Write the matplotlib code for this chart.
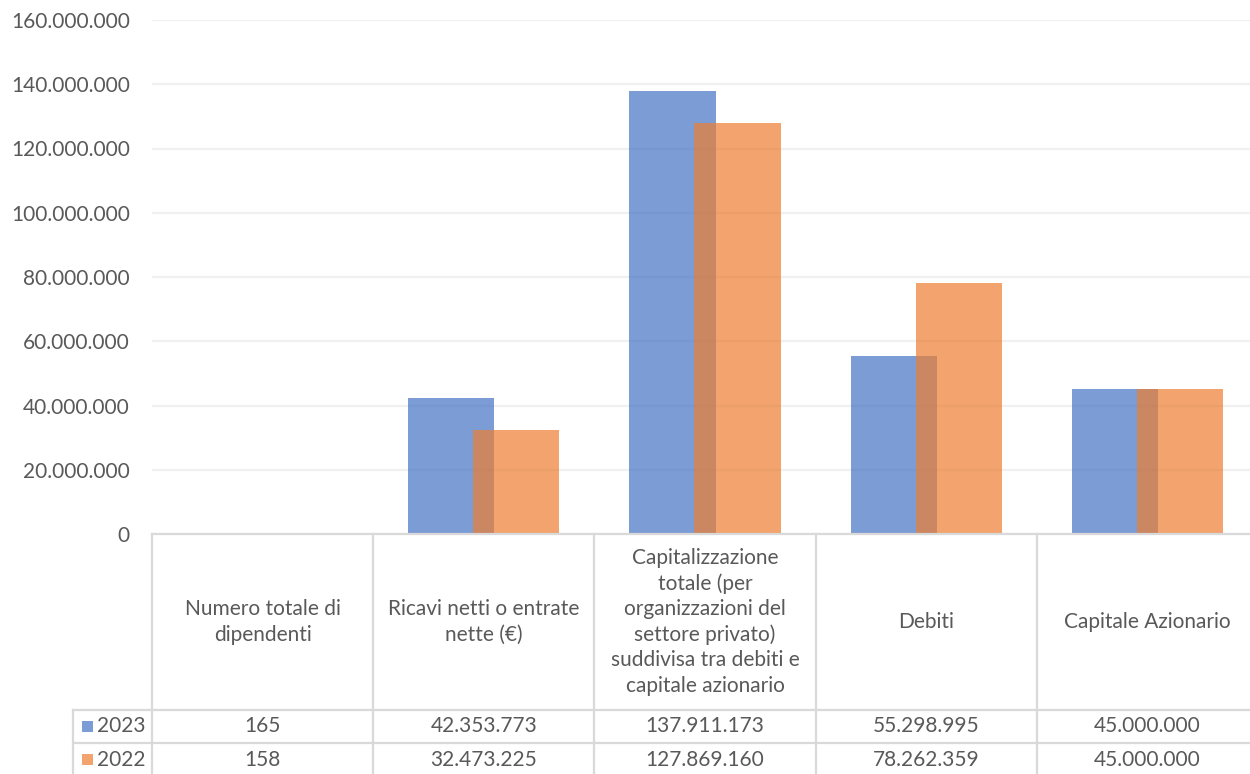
import matplotlib.pyplot as plt
from matplotlib.ticker import FuncFormatter
import numpy as np

categories = ['Numero totale di\ndipendenti',
              'Ricavi netti o entrate\nnette (€)',
              'Capitalizzazione\ntotale (per\norganizzazioni del\nsettore privato)\nsuddivisa tra debiti e\ncapitale azionario',
              'Debiti',
              'Capitale Azionario']
years = ['2023', '2022']
vals_2023 = [165, 42353773, 137911173, 55298995, 45000000]
vals_2022 = [158, 32473225, 127869160, 78262359, 45000000]
colors = ['#4472C4', '#ED7D31']

def fmt(v):
	return f'{v:,.0f}'.replace(',', '.')

plt.rcParams['font.family'] = ['Lato', 'DejaVu Sans']
txt = '#595959'
fs = 15

W, H = 1250, 774
fig = plt.figure(figsize=(W / 100, H / 100), dpi=100)

# plot area in pixels
x0, x1 = 152, 1258
ytop, ybot = 20, 534
ax = fig.add_axes([x0 / W, 1 - ybot / H, (x1 - x0) / W, (ybot - ytop) / H])

n = len(categories)
x = np.arange(n)
bw = 0.39
off = 0.147
ax.bar(x - off, vals_2023, bw, color=colors[0], alpha=0.7, zorder=3)
ax.bar(x + off, vals_2022, bw, color=colors[1], alpha=0.7, zorder=3)

ax.set_xlim(-0.5, n - 0.5)
ax.set_ylim(0, 160000000)
ax.set_yticks(np.arange(0, 160000001, 20000000))
ax.yaxis.set_major_formatter(FuncFormatter(lambda v, p: fmt(v)))
ax.grid(axis='y', color='#F0F0F0', linewidth=1.6, zorder=0)
ax.set_xticks([])
for s in ax.spines.values():
	s.set_visible(False)
ax.tick_params(axis='y', length=0, pad=16, labelsize=fs, labelcolor=txt)

# data table below the plot, pixel coordinates
tab = fig.add_axes([0, 0, 1, 1])
tab.set_xlim(0, W)
tab.set_ylim(H, 0)
tab.axis('off')
tab.patch.set_alpha(0)

cw = (x1 - x0) / n
lbl_x = 73
row_h = 33
hdr_bot = 710
rows_y = [hdr_bot, hdr_bot + row_h, hdr_bot + 2 * row_h]
lc = '#D9D9D9'
lw = 1.6

tab.plot([x0, x1], [ybot, ybot], color=lc, lw=lw)
for y in rows_y:
	tab.plot([lbl_x, x1], [y, y], color=lc, lw=lw)
for i in range(n + 1):
	tab.plot([x0 + i * cw] * 2, [ybot, rows_y[-1]], color=lc, lw=lw)
tab.plot([lbl_x, lbl_x], [hdr_bot, rows_y[-1]], color=lc, lw=lw)

for i, c in enumerate(categories):
	tab.text(x0 + (i + 0.5) * cw, (ybot + hdr_bot) / 2, c, ha='center', va='center',
			 fontsize=fs, color=txt, linespacing=1.32)

for r, (yr, vals) in enumerate(zip(years, [vals_2023, vals_2022])):
	yc = rows_y[r] + row_h / 2
	tab.add_patch(plt.Rectangle((82, yc - 6), 11, 11, color=colors[r], alpha=0.7, lw=0))
	tab.text(97, yc, yr, ha='left', va='center', fontsize=fs, color=txt)
	for i, v in enumerate(vals):
		tab.text(x0 + (i + 0.5) * cw, yc, fmt(v), ha='center', va='center', fontsize=fs, color=txt)

fig.savefig('out.png', dpi=100)
